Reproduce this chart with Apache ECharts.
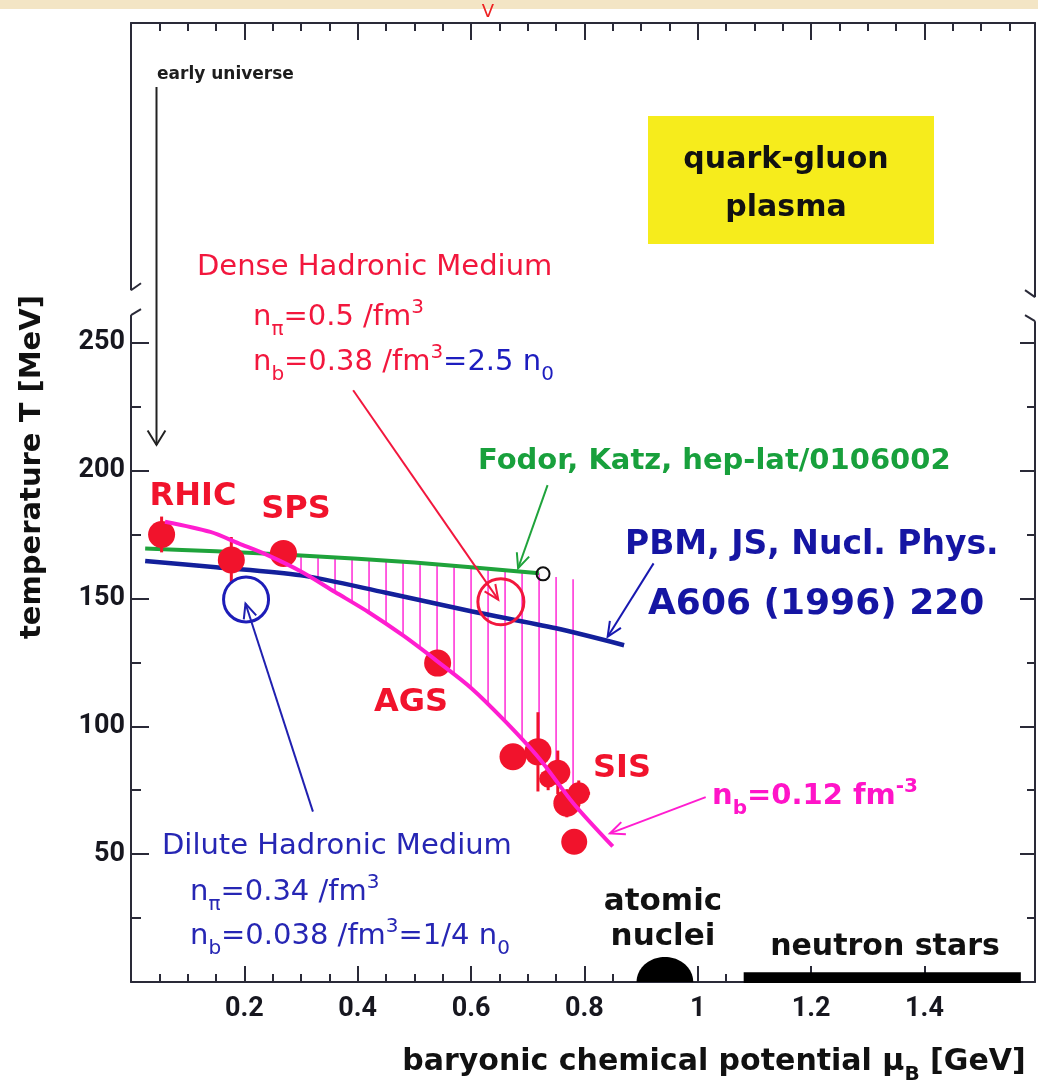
<!DOCTYPE html>
<html>
<head>
<meta charset="utf-8">
<script src="https://cdn.jsdelivr.net/npm/echarts@6/dist/echarts.min.js"></script>
<style>
html,body{margin:0;padding:0;background:#ffffff;}
#chart{width:1038px;height:1089px;}
</style>
</head>
<body>
<div id="chart"></div>
<script>
// ---------------- data ----------------
// axes
const xTickLabels = [0.2, 0.4, 0.6, 0.8, 1.0, 1.2, 1.4];
const xMinorTicks = [0.05,0.1,0.15,0.25,0.3,0.35,0.45,0.5,0.55,0.65,0.7,0.75,0.85,0.9,0.95,1.05,1.1,1.15,1.25,1.3,1.35,1.45,1.5,1.55];
const yTickLabels = [50, 100, 150, 200, 250];
const yMinorTicks = [25, 75, 125, 175, 225];
const xRange = [0, 1.595];
const yRange = [0, 375];
const yBreakLeft = [260.8, 270.5];
const yBreakRight = [258.4, 267.8];

// Fodor-Katz lattice line (green)
const greenMu = [0.025, 0.15, 0.30, 0.50, 0.72];
const greenT  = [169.5, 168.4, 166.8, 164.0, 159.8];
// end point of lattice line (open black circle)
const endMu = [0.727];
const endT  = [159.6];

// PBM, JS phase boundary (blue)
const blueMu = [0.025, 0.15, 0.30, 0.45, 0.60, 0.75, 0.87];
const blueT  = [164.6, 162.2, 159.0, 152.2, 145.0, 138.3, 131.7];

// n_b = 0.12 fm^-3 freeze-out curve (magenta)
const magMu = [0.06, 0.14, 0.19, 0.24, 0.30, 0.36, 0.42, 0.48, 0.54, 0.60, 0.66, 0.72, 0.78, 0.85];
const magT  = [180, 176, 171.5, 167, 160.5, 152.5, 144.5, 135.5, 125.5, 115, 102, 87.5, 70, 53];

// hatching between the curves
const hatchMu   = [0.30,0.33,0.36,0.39,0.42,0.45,0.48,0.51,0.54,0.57,0.60,0.63,0.66,0.69,0.72,0.75,0.78];
const hatchLow  = [160.5,156.5,152.5,148.5,144.5,140,135.5,130.5,125.5,120.5,115,108.5,102,95,87.5,78.5,70];
const hatchHigh = [166.8,166.4,166.0,165.6,165.1,164.7,164.2,163.7,163.2,162.7,162.2,161.6,161.0,160.4,159.8,158.4,157.5];

// chemical freeze-out points (RHIC, -, SPS, AGS, SIS ...)
const pointMu    = [0.054, 0.177, 0.269, 0.541, 0.674, 0.718, 0.736, 0.753, 0.769, 0.790, 0.782];
const pointT     = [175, 165, 167.6, 124.7, 88.1, 90, 79.5, 82, 69.9, 73.8, 54.8];
const pointErrT  = [7, 9, 0, 0, 0, 15.5, 4.5, 8.5, 5.5, 5, 0];
const pointErrMu = [0, 0, 0, 0, 0, 0, 0.012, 0, 0, 0.02, 0];

// marked media (open circles): dilute, dense
const circleMu = [0.203, 0.6526];
const circleT  = [149.6, 148.7];

// annotation arrows: early universe, dense, Fodor, PBM, dilute, n_b
const arrowFromMu = [0.045, 0.392, 0.735, 0.922, 0.321, 1.014];
const arrowFromT  = [350, 231.4, 194.3, 163.7, 66.6, 72.3];
const arrowToMu   = [0.045, 0.648, 0.683, 0.841, 0.202, 0.845];
const arrowToT    = [210, 149.5, 161.8, 135.0, 148.0, 58.1];

// atomic nuclei (half disc) and neutron stars (bar)
const nucleiMu = [0.942];
const nucleiHalfWidth = [0.05];
const nucleiHeight = [9.8];
const starsFrom = [1.081];
const starsTo = [1.570];
const starsHeight = [3.8];

// ---------------- styles ----------------
const AX = '#2a2a38';
const RED = '#f1132c';
const GREEN = '#1fa33b';
const BLUE = '#13209b';
const MAGENTA = '#ff1dd0';
const HATCH = '#ff2ad6';
const pointSize = [27, 27, 27, 27, 27, 27, 18, 25, 27, 22, 26];
const circleColor = ['#1d1db8', '#f2173d'];
const circleSize = [45, 46];
const arrowColor = ['#222222', '#f2173d', '#1fa33b', '#1818b0', '#2020b0', '#ff1dd0'];
const arrowHeadHalfAngle = [0.55, 0.42, 0.42, 0.42, 0.42, 0.42];
const arrowHeadLen = [17, 16, 16, 16, 16, 16];
const TICKFONT = 'Roboto';

const zip = (a, b) => a.map((v, i) => [v, b[i]]);

const chart = echarts.init(document.getElementById('chart'), null, {renderer: 'canvas'});

function tickAxis(pos, ticks, len, showLine, labels, isX) {
  const ax = {
    type: 'value', min: isX ? xRange[0] : yRange[0], max: isX ? xRange[1] : yRange[1],
    position: pos,
    axisLine: {show: showLine, onZero: false, lineStyle: {color: AX, width: 2}},
    axisTick: {show: true, inside: true, length: len, customValues: ticks, lineStyle: {color: AX, width: 2}},
    axisLabel: {show: false},
    splitLine: {show: false}
  };
  if (labels) {
    ax.axisLabel = {
      show: true, customValues: labels, margin: isX ? 14 : 6,
      fontSize: 27, fontWeight: 'bold', fontFamily: TICKFONT, color: '#17171f'
    };
  }
  return ax;
}

function hatchRender(params, api) {
  const a = api.coord([api.value(0), api.value(1)]);
  const b = api.coord([api.value(0), api.value(2)]);
  return {type: 'line', shape: {x1: a[0], y1: a[1], x2: b[0], y2: b[1]},
          style: {stroke: HATCH, lineWidth: 1.5}};
}

function errRender(params, api) {
  const x = api.value(0), t = api.value(1), et = api.value(2), em = api.value(3);
  const ch = [];
  if (et > 0) {
    const a = api.coord([x, t - et]), b = api.coord([x, t + et]);
    ch.push({type: 'line', shape: {x1: a[0], y1: a[1], x2: b[0], y2: b[1]}, style: {stroke: RED, lineWidth: 3}});
  }
  if (em > 0) {
    const a = api.coord([x - em, t]), b = api.coord([x + em, t]);
    ch.push({type: 'line', shape: {x1: a[0], y1: a[1], x2: b[0], y2: b[1]}, style: {stroke: RED, lineWidth: 3}});
  }
  return {type: 'group', children: ch};
}

function arrowRender(params, api) {
  const i = params.dataIndex;
  const p1 = api.coord([api.value(0), api.value(1)]);
  const p2 = api.coord([api.value(2), api.value(3)]);
  const ang = Math.atan2(p2[1] - p1[1], p2[0] - p1[0]);
  const L = arrowHeadLen[i], w = arrowHeadHalfAngle[i];
  const h1 = [p2[0] - L * Math.cos(ang - w), p2[1] - L * Math.sin(ang - w)];
  const h2 = [p2[0] - L * Math.cos(ang + w), p2[1] - L * Math.sin(ang + w)];
  const c = arrowColor[i];
  return {type: 'group', children: [
    {type: 'line', shape: {x1: p1[0], y1: p1[1], x2: p2[0], y2: p2[1]}, style: {stroke: c, lineWidth: 2}},
    {type: 'polyline', shape: {points: [h1, p2, h2]}, style: {stroke: c, lineWidth: 2, fill: null}}
  ]};
}

function nucleiRender(params, api) {
  const c = api.coord([api.value(0), 0]);
  const rx = api.size([api.value(1), 0])[0];
  const ry = api.size([0, api.value(2)])[1];
  const pts = [];
  for (let k = 0; k <= 40; k++) {
    const a = Math.PI * k / 40;
    pts.push([c[0] - rx * Math.cos(a), c[1] - ry * Math.sin(a)]);
  }
  return {type: 'polygon', shape: {points: pts}, style: {fill: '#000000'}};
}

function starsRender(params, api) {
  const a = api.coord([api.value(0), api.value(2)]);
  const b = api.coord([api.value(1), 0]);
  return {type: 'rect', shape: {x: a[0], y: a[1], width: b[0] - a[0], height: b[1] - a[1] + 1}, style: {fill: '#000000'}};
}

const option = {
  animation: false,
  backgroundColor: '#ffffff',
  grid: {left: 131, right: 3, top: 23, bottom: 107},
  xAxis: [
    tickAxis('bottom', xMinorTicks, 8, true, xTickLabels, true),
    tickAxis('bottom', xTickLabels, 16, false, null, true),
    tickAxis('top', xMinorTicks, 8, true, null, true),
    tickAxis('top', xTickLabels, 17, false, null, true)
  ],
  yAxis: [
    tickAxis('left', yMinorTicks, 10, true, yTickLabels, false),
    tickAxis('left', yTickLabels, 18, false, null, false),
    tickAxis('right', yMinorTicks, 8, true, null, false),
    tickAxis('right', yTickLabels, 15, false, null, false)
  ],
  series: [
    {type: 'custom', name: 'hatch', renderItem: hatchRender, silent: true, z: 1,
     data: hatchMu.map((m, i) => [m, hatchLow[i], hatchHigh[i]])},
    {type: 'line', name: 'Fodor, Katz', data: zip(greenMu, greenT), symbol: 'none', smooth: 0.2,
     lineStyle: {color: GREEN, width: 4}, z: 2, silent: true},
    {type: 'line', name: 'PBM, JS', data: zip(blueMu, blueT), symbol: 'none', smooth: 0.3,
     lineStyle: {color: BLUE, width: 4.5}, z: 2, silent: true},
    {type: 'custom', name: 'errors', renderItem: errRender, silent: true, z: 3,
     data: pointMu.map((m, i) => [m, pointT[i], pointErrT[i], pointErrMu[i]])},
    {type: 'scatter', name: 'freeze-out', z: 3, silent: true,
     data: zip(pointMu, pointT),
     symbolSize: (v, p) => pointSize[p.dataIndex],
     itemStyle: {color: RED, opacity: 1}},
    {type: 'line', name: 'n_b=0.12', data: zip(magMu, magT), symbol: 'none', smooth: 0.3,
     lineStyle: {color: MAGENTA, width: 4}, z: 4, silent: true},
    {type: 'scatter', name: 'media', z: 5, silent: true,
     data: zip(circleMu, circleT).map((v, i) => ({value: v, symbolSize: circleSize[i],
       itemStyle: {color: 'rgba(0,0,0,0)', borderColor: circleColor[i], borderWidth: 3, opacity: 1}}))},
    {type: 'scatter', name: 'end', z: 5, silent: true,
     data: zip(endMu, endT), symbolSize: 13,
     itemStyle: {color: 'rgba(0,0,0,0)', borderColor: '#111111', borderWidth: 2, opacity: 1}},
    {type: 'custom', name: 'arrows', renderItem: arrowRender, silent: true, z: 6,
     data: arrowFromMu.map((m, i) => [m, arrowFromT[i], arrowToMu[i], arrowToT[i]])},
    {type: 'custom', name: 'nuclei', renderItem: nucleiRender, silent: true, z: 6,
     data: nucleiMu.map((m, i) => [m, nucleiHalfWidth[i], nucleiHeight[i]])},
    {type: 'custom', name: 'stars', renderItem: starsRender, silent: true, z: 6,
     data: starsFrom.map((m, i) => [m, starsTo[i], starsHeight[i]])}
  ]
};
chart.setOption(option);

// ---------------- text & decorations ----------------
const mctx = document.createElement('canvas').getContext('2d');
function fontStr(size, weight, fam) { return weight + ' ' + size + 'px ' + fam; }
function measure(t, size, weight, fam) { mctx.font = fontStr(size, weight, fam); return mctx.measureText(t).width; }

const DV = "'DejaVu Sans'";
function textRun(x0, baseline, parts, o) {
  const fam = o.family || DV;
  const widths = parts.map(p => measure(p.t, p.size || o.size, o.weight || 'normal', fam));
  const total = widths.reduce((a, b) => a + b, 0);
  let x = o.align === 'center' ? x0 - total / 2 : x0;
  const out = [];
  parts.forEach((p, i) => {
    const size = p.size || o.size;
    out.push({
      type: 'text', x: x, y: baseline + (p.dy || 0) - 0.346 * size, z: 100, silent: true,
      style: {text: p.t, font: fontStr(size, o.weight || 'normal', fam), fill: p.color || o.color,
              align: 'left', verticalAlign: 'middle', textAlign: 'left', textVerticalAlign: 'middle'}
    });
    x += widths[i];
  });
  return out;
}
const SUB = 20, SUBDY = 9, SUPDY = -13;

const cRed = '#f2173d', cBlueT = '#1d1dbf', cDil = '#2626b4', cPbm = '#1515a3', cGreenT = '#18a03c', cMag = '#ff14c8';

let g = [];
g.push({type: 'rect', shape: {x: 0, y: 0, width: 1038, height: 9}, style: {fill: '#f3e5c5'}, z: 90, silent: true});
g.push({type: 'rect', shape: {x: 648, y: 116, width: 286, height: 128}, style: {fill: '#f6ec1c'}, z: 90, silent: true});

g = g.concat(textRun(488, 19, [{t: 'V'}], {align: 'center', size: 18, color: '#ee2222'}));
g = g.concat(textRun(157, 80, [{t: 'early universe'}], {size: 17, weight: 'bold', color: '#1d1d1d'}));
g = g.concat(textRun(786, 171, [{t: 'quark-gluon'}], {align: 'center', size: 30, weight: 'bold', color: '#111'}));
g = g.concat(textRun(786, 219, [{t: 'plasma'}], {align: 'center', size: 30, weight: 'bold', color: '#111'}));

g = g.concat(textRun(197, 278, [{t: 'Dense Hadronic Medium'}], {size: 29, color: cRed}));
g = g.concat(textRun(253, 328, [{t: 'n'}, {t: 'π', size: SUB, dy: SUBDY}, {t: '=0.5 /fm'}, {t: '3', size: SUB, dy: SUPDY}], {size: 29, color: cRed}));
g = g.concat(textRun(253, 373, [{t: 'n'}, {t: 'b', size: SUB, dy: SUBDY}, {t: '=0.38 /fm'}, {t: '3', size: SUB, dy: SUPDY},
  {t: '=2.5 n', color: cBlueT}, {t: '0', size: SUB, dy: SUBDY, color: cBlueT}], {size: 29, color: cRed}));

g = g.concat(textRun(478, 472, [{t: 'Fodor, Katz, hep-lat/0106002'}], {size: 29, weight: 'bold', color: cGreenT}));
g = g.concat(textRun(193, 508, [{t: 'RHIC'}], {align: 'center', size: 32, weight: 'bold', color: RED}));
g = g.concat(textRun(296, 521, [{t: 'SPS'}], {align: 'center', size: 32, weight: 'bold', color: RED}));
g = g.concat(textRun(411, 714, [{t: 'AGS'}], {align: 'center', size: 32, weight: 'bold', color: RED}));
g = g.concat(textRun(622, 780, [{t: 'SIS'}], {align: 'center', size: 32, weight: 'bold', color: RED}));

g = g.concat(textRun(625, 557, [{t: 'PBM, JS, Nucl. Phys.'}], {size: 33, weight: 'bold', color: cPbm}));
g = g.concat(textRun(648, 617, [{t: 'A606 (1996) 220'}], {size: 36, weight: 'bold', color: cPbm}));

g = g.concat(textRun(162, 857, [{t: 'Dilute Hadronic Medium'}], {size: 29, color: cDil}));
g = g.concat(textRun(190, 903, [{t: 'n'}, {t: 'π', size: SUB, dy: SUBDY}, {t: '=0.34 /fm'}, {t: '3', size: SUB, dy: SUPDY}], {size: 29, color: cDil}));
g = g.concat(textRun(190, 947, [{t: 'n'}, {t: 'b', size: SUB, dy: SUBDY}, {t: '=0.038 /fm'}, {t: '3', size: SUB, dy: SUPDY},
  {t: '=1/4 n'}, {t: '0', size: SUB, dy: SUBDY}], {size: 29, color: cDil}));

g = g.concat(textRun(712, 807, [{t: 'n'}, {t: 'b', size: SUB, dy: SUBDY}, {t: '=0.12 fm'}, {t: '-3', size: SUB, dy: SUPDY}], {size: 29, weight: 'bold', color: cMag}));

g = g.concat(textRun(663, 913, [{t: 'atomic'}], {align: 'center', size: 31, weight: 'bold', color: '#111'}));
g = g.concat(textRun(663, 948, [{t: 'nuclei'}], {align: 'center', size: 31, weight: 'bold', color: '#111'}));
g = g.concat(textRun(885, 958, [{t: 'neutron stars'}], {align: 'center', size: 30, weight: 'bold', color: '#111'}));

g = g.concat(textRun(714, 1073, [{t: 'baryonic chemical potential μ'}, {t: 'B', size: SUB, dy: SUBDY}, {t: ' [GeV]'}], {align: 'center', size: 30, weight: 'bold', color: '#111'}));

g.push({type: 'text', x: 32, y: 467, rotation: Math.PI / 2, z: 100, silent: true,
  style: {text: 'temperature T [MeV]', font: fontStr(29, 'bold', DV), fill: '#111',
          align: 'center', verticalAlign: 'middle', textAlign: 'center', textVerticalAlign: 'middle'}});

// axis breaks
const xL = chart.convertToPixel({xAxisIndex: 0}, xRange[0]);
const xR = chart.convertToPixel({xAxisIndex: 0}, xRange[1]);
function breakMarks(x, yLoVal, yHiVal, dir) {
  const y0 = chart.convertToPixel({yAxisIndex: 0}, yLoVal);
  const y1 = chart.convertToPixel({yAxisIndex: 0}, yHiVal);
  return [
    {type: 'rect', shape: {x: x - 3, y: y1, width: 6, height: y0 - y1}, style: {fill: '#ffffff'}, z: 95, silent: true},
    {type: 'line', shape: {x1: x, y1: y1, x2: x + dir * 10, y2: y1 - 7}, style: {stroke: AX, lineWidth: 2}, z: 96, silent: true},
    {type: 'line', shape: {x1: x, y1: y0, x2: x + dir * 10, y2: y0 - 6}, style: {stroke: AX, lineWidth: 2}, z: 96, silent: true}
  ];
}
g = g.concat(breakMarks(xL, yBreakLeft[0], yBreakLeft[1], 1));
g = g.concat(breakMarks(xR, yBreakRight[0], yBreakRight[1], -1));

chart.setOption({graphic: {elements: g}});
</script>
</body>
</html>
